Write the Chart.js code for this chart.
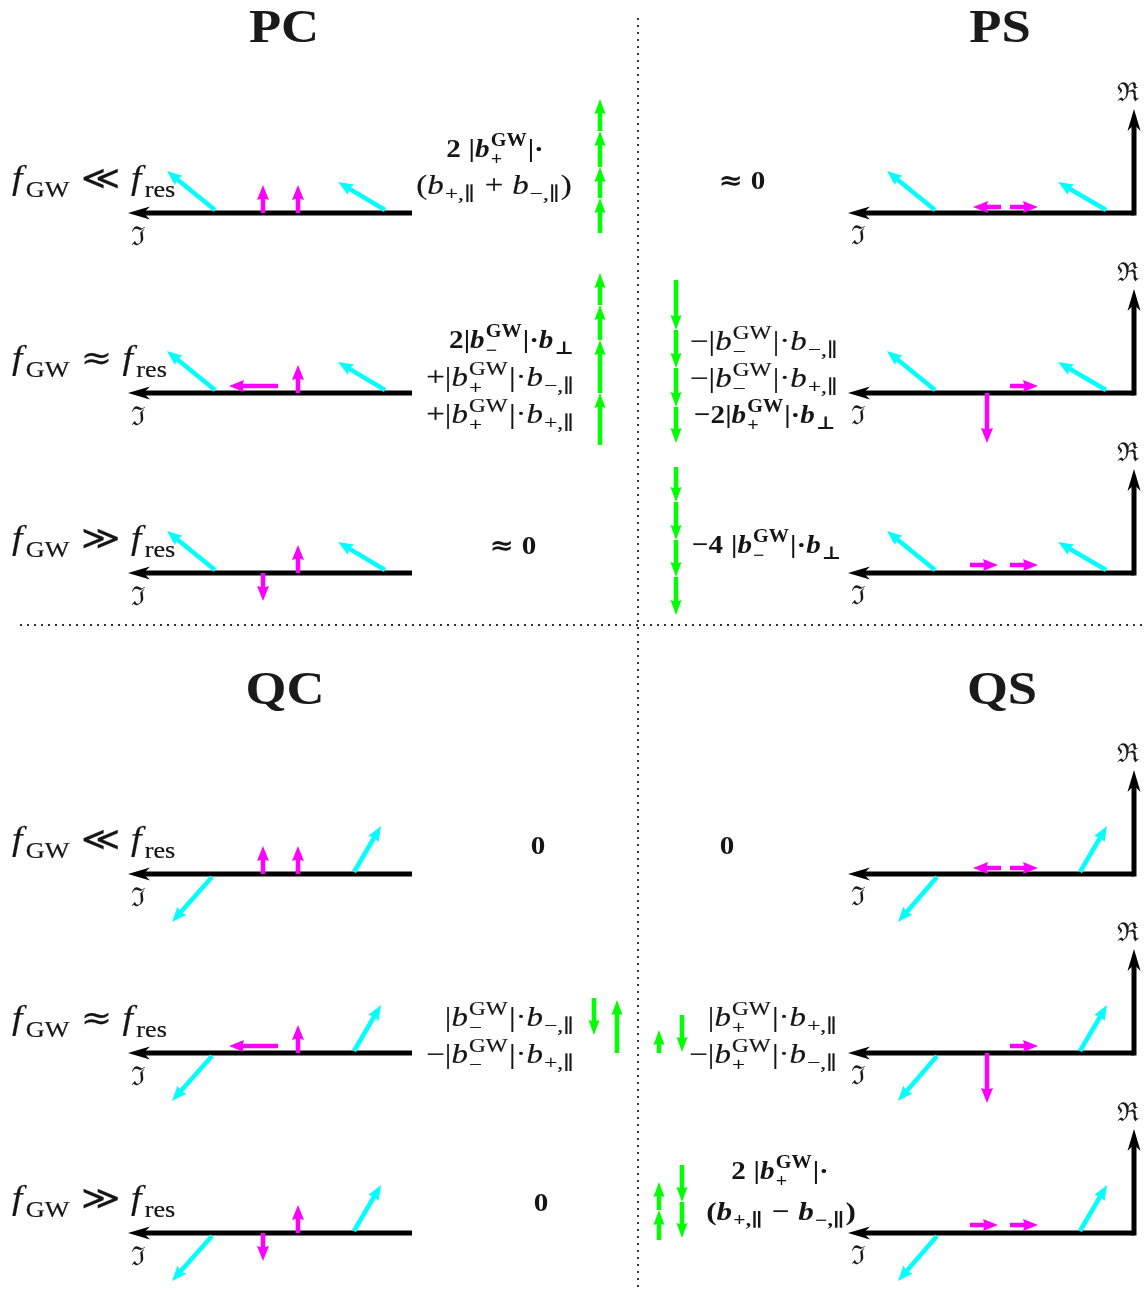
<!DOCTYPE html>
<html><head><meta charset="utf-8">
<script src="https://cdn.jsdelivr.net/npm/chart.js@4.4.1/dist/chart.umd.min.js"></script>
<style>html,body{margin:0;padding:0;background:#fff}canvas{display:block}</style>
</head><body><canvas id="c" width="1144" height="1290"></canvas>
<script>
// ---------------- data (diagram units) ----------------
const panelTitles = ['PC', 'PS', 'QC', 'QS'];
const titleX = [284, 1000, 285, 1002];
const titleY = [42, 42, 704, 704];
const rowRelations = ['≪', '≈', '≫', '≪', '≈', '≫'];
const rowAxisY = [213, 393, 573, 874, 1053, 1233];
const leftAxis = [412, 128];    // start, tip
const rightAxis = [1134, 848];  // start, tip
const reAxisLen = 104;
// cyan phasors: [x0, up0, x1, up1] (up = above the axis)
const cyanP  = [[215, 3, 167, 42], [385, 3, 338, 31]];
const cyanPR = [[935, 3, 887, 42], [1106, 3, 1058, 31]];
const cyanQ  = [[212, -3, 172, -48], [354, 2, 381, 48]];
const cyanQR = [[937, -3, 898, -48], [1080, 2, 1107, 48]];
// magenta phasors per row (C = left panels, S = right panels)
const magentaC = [
  [[263, 0, 263, 28], [298, 0, 298, 28]],
  [[278, 7, 229, 7], [298, 0, 298, 28]],
  [[298, 0, 298, 28], [263, 0, 263, -28]]
];
const magentaS = [
  [[1001, 6, 973, 6], [1010, 6, 1038, 6]],
  [[1010, 7, 1038, 7], [987, 0, 987, -50]],
  [[970, 8, 998, 8], [1010, 8, 1038, 8]]
];
// green contributions: [x, yStart, yEnd]
const greenArrows = [
  [600, 233, 198], [600, 198, 167], [600, 167, 131], [600, 131, 99],
  [600, 445, 393], [600, 393, 340], [600, 340, 305], [600, 305, 273],
  [676, 280, 330], [676, 330, 368], [676, 368, 407], [676, 407, 443],
  [676, 467, 502], [676, 502, 540], [676, 540, 577], [676, 577, 615],
  [594, 998, 1035], [617, 1053, 1000],
  [659, 1053, 1030], [682, 1015, 1052],
  [659, 1240, 1210], [659, 1210, 1182], [682, 1165, 1202], [682, 1202, 1238]
];
// expressions: [text, x, baseline, align, bold]
const exprs = [
  ['2 |b^{GW}_{+}|·', 495, 157, 'center', true],
  ['(b_{+,∥} + b_{−,∥})', 494, 194, 'center', false],
  ['≈ 0', 742, 189, 'center', true],
  ['2|b^{GW}_{−}|·b_{⊥}', 575, 348, 'right', true],
  ['+|b^{GW}_{+}|·b_{−,∥}', 575, 386, 'right', false],
  ['+|b^{GW}_{+}|·b_{+,∥}', 575, 423, 'right', false],
  ['−|b^{GW}_{−}|·b_{−,∥}', 690, 350, 'left', false],
  ['−|b^{GW}_{−}|·b_{+,∥}', 690, 387, 'left', false],
  ['−2|b^{GW}_{+}|·b_{⊥}', 694, 423, 'left', true],
  ['≈ 0', 513, 554, 'center', true],
  ['−4 |b^{GW}_{−}|·b_{⊥}', 692, 553, 'left', true],
  ['0', 538, 854, 'center', true],
  ['0', 727, 854, 'center', true],
  ['|b^{GW}_{−}|·b_{−,∥}', 575, 1026, 'right', false],
  ['−|b^{GW}_{−}|·b_{+,∥}', 575, 1063, 'right', false],
  ['|b^{GW}_{+}|·b_{+,∥}', 838, 1026, 'right', false],
  ['−|b^{GW}_{+}|·b_{−,∥}', 838, 1063, 'right', false],
  ['0', 541, 1211, 'center', true],
  ['2 |b^{GW}_{+}|·', 780, 1179, 'center', true],
  ['(b_{+,∥} − b_{−,∥})', 781, 1220, 'center', true]
];
const dividerV = [638, 18, 1290];
const dividerH = [625, 20, 1144];

// ---------------- build datasets ----------------
const CY = '#00FFFF', MG = '#FF00FF', GR = '#00FF00', BK = '#000000';
const datasets = [];
function addArrow(x0, y0, x1, y1, color, kind) {
  datasets.push({ data: [{x: x0, y: y0}, {x: x1, y: y1}], arrowColor: color, kind: kind,
    showLine: false, pointRadius: 0, pointHoverRadius: 0 });
}
rowAxisY.forEach((base, r) => {
  const isQ = r >= 3, row = r % 3;
  addArrow(leftAxis[0], base, leftAxis[1], base, BK, 'axis');
  addArrow(rightAxis[0], base, rightAxis[1], base, BK, 'axis');
  addArrow(rightAxis[0], base + 2.5, rightAxis[0], base - reAxisLen, BK, 'axis');
  const cl = isQ ? cyanQ : cyanP, cr = isQ ? cyanQR : cyanPR;
  cl.concat(cr).forEach(a => addArrow(a[0], base - a[1], a[2], base - a[3], CY, 'col'));
  magentaC[row].concat(magentaS[row]).forEach(a => addArrow(a[0], base - a[1], a[2], base - a[3], MG, 'col'));
});
greenArrows.forEach(g => addArrow(g[0], g[1], g[0], g[2], GR, 'green'));

// ---------------- math text helpers ----------------
const FONT = '"Liberation Serif", "DejaVu Serif", serif';
const SYM = '"DejaVu Serif", serif';
function fnt(size, bold, ital, sym) {
  return (ital ? 'italic ' : '') + (bold ? 'bold ' : '') + size + 'px ' + (sym ? SYM : FONT);
}
function tokens(s) {
  const out = []; let i = 0;
  while (i < s.length) {
    const c = s[i];
    if ((c === '^' || c === '_') && s[i + 1] === '{') {
      const j = s.indexOf('}', i);
      out.push({k: c === '^' ? 'sup' : 'sub', t: s.slice(i + 2, j)}); i = j + 1;
    } else { out.push({k: 'ch', t: c}); i++; }
  }
  return out;
}
function isSym(c) { return '∥⊥≪≫≈'.includes(c); }
function layoutMath(ctx, s, S, bold) {
  const tk = tokens(s), ops = []; let x = 0; const s2 = Math.round(S * 0.7);
  function pushRun(t, x0, dy, size) {
    let w = 0;
    for (const c of t) { const f = fnt(size, bold, false, isSym(c)); ctx.font = f; ops.push({t: c, x: x0 + w, dy: dy, font: f}); w += ctx.measureText(c).width; }
    return w;
  }
  for (let i = 0; i < tk.length; i++) {
    const t = tk[i];
    if (t.k === 'ch') {
      if (t.t === ' ') { x += S * 0.27; continue; }
      const it = 'bf'.includes(t.t);
      const f = fnt(S, bold, it, isSym(t.t)); ctx.font = f;
      ops.push({t: t.t, x: x, dy: 0, font: f});
      x += ctx.measureText(t.t).width + (t.t === 'f' ? S * 0.06 : 0);
    } else {
      const nx = tk[i + 1];
      if (nx && nx.k !== 'ch' && nx.k !== t.k) {
        const sup = t.k === 'sup' ? t : nx, sub = t.k === 'sub' ? t : nx;
        const w1 = pushRun(sup.t, x + 1, -S * 0.42, s2);
        const w2 = pushRun(sub.t, x + 1, S * 0.30, s2);
        x += Math.max(w1, w2) + 2; i++;
      } else {
        const w = pushRun(t.t, x + 1, t.k === 'sup' ? -S * 0.42 : S * 0.24, s2);
        x += w + 2;
      }
    }
  }
  return {w: x, ops: ops};
}
function drawMath(ctx, s, x, y, align, S, bold, stretch) {
  const L = layoutMath(ctx, s, S, bold); const W = L.w * stretch;
  const x0 = align === 'center' ? x - W / 2 : align === 'right' ? x - W : x;
  ctx.save(); ctx.translate(x0, y); ctx.scale(stretch, 1);
  ctx.textAlign = 'left'; ctx.textBaseline = 'alphabetic'; ctx.fillStyle = '#151515';
  ctx.strokeStyle = '#151515'; ctx.lineWidth = 0.2;
  L.ops.forEach(o => { ctx.font = o.font; ctx.fillText(o.t, o.x, o.dy); if (!bold) ctx.strokeText(o.t, o.x, o.dy); });
  ctx.restore();
}
function drawArrow(ctx, x0, y0, x1, y1, color, lw, hl, hw, notch) {
  const dx = x1 - x0, dy = y1 - y0, L = Math.hypot(dx, dy), ux = dx / L, uy = dy / L, nx = -uy, ny = ux;
  const bx = x1 - ux * hl, by = y1 - uy * hl;
  ctx.strokeStyle = color; ctx.lineWidth = lw; ctx.lineCap = 'butt';
  ctx.beginPath(); ctx.moveTo(x0, y0); ctx.lineTo(x1 - ux * hl * 0.6, y1 - uy * hl * 0.6); ctx.stroke();
  ctx.fillStyle = color; ctx.beginPath(); ctx.moveTo(x1, y1);
  ctx.lineTo(bx + nx * hw / 2, by + ny * hw / 2);
  ctx.lineTo(x1 - ux * hl * (1 - notch), y1 - uy * hl * (1 - notch));
  ctx.lineTo(bx - nx * hw / 2, by - ny * hw / 2);
  ctx.closePath(); ctx.fill();
}

const diagramPlugin = {
  id: 'diagram',
  beforeDraw(chart) {
    const c = chart.ctx; c.save(); c.fillStyle = '#fff'; c.fillRect(0, 0, chart.width, chart.height); c.restore();
  },
  beforeDatasetsDraw(chart) {
    const c = chart.ctx, xs = chart.scales.x, ys = chart.scales.y;
    c.save(); c.strokeStyle = '#333'; c.lineWidth = 2; c.setLineDash([2, 5]);
    c.beginPath(); c.moveTo(xs.getPixelForValue(dividerV[0]), ys.getPixelForValue(dividerV[1]));
    c.lineTo(xs.getPixelForValue(dividerV[0]), ys.getPixelForValue(dividerV[2])); c.stroke();
    c.beginPath(); c.moveTo(xs.getPixelForValue(dividerH[1]), ys.getPixelForValue(dividerH[0]));
    c.lineTo(xs.getPixelForValue(dividerH[2]), ys.getPixelForValue(dividerH[0])); c.stroke();
    c.restore();
  },
  afterDatasetsDraw(chart) {
    const c = chart.ctx, xs = chart.scales.x, ys = chart.scales.y;
    c.save();
    chart.data.datasets.forEach((ds, i) => {
      const m = chart.getDatasetMeta(i); const p0 = m.data[0], p1 = m.data[1];
      if (ds.kind === 'axis') drawArrow(c, p0.x, p0.y, p1.x, p1.y, ds.arrowColor, 5, 22, 13, 0.3);
      else if (ds.kind === 'green') drawArrow(c, p0.x, p0.y, p1.x, p1.y, ds.arrowColor, 4.5, 15, 11, 0.12);
      else drawArrow(c, p0.x, p0.y, p1.x, p1.y, ds.arrowColor, 4.5, 15, 12, 0.12);
    });
    c.fillStyle = '#1a1a1a'; c.textAlign = 'center'; c.textBaseline = 'alphabetic';
    panelTitles.forEach((t, i) => {
      c.save(); c.translate(xs.getPixelForValue(titleX[i]), ys.getPixelForValue(titleY[i])); c.scale(1.12, 1);
      c.font = fnt(47, true, false); c.fillText(t, 0, 0); c.restore();
    });
    rowAxisY.forEach((base, r) => {
      drawMath(c, 'f_{GW} ' + rowRelations[r] + ' f_{res}', xs.getPixelForValue(12), ys.getPixelForValue(base - 24), 'left', 33, false, 1.14);
      c.fillStyle = '#1a1a1a'; c.textAlign = 'center'; c.font = '26px "DejaVu Serif", serif';
      c.fillText('ℑ', xs.getPixelForValue(138), ys.getPixelForValue(base + 32));
      c.fillText('ℑ', xs.getPixelForValue(858), ys.getPixelForValue(base + 31));
      c.fillText('ℜ', xs.getPixelForValue(1128), ys.getPixelForValue(base - 112));
    });
    exprs.forEach(e => drawMath(c, e[0], xs.getPixelForValue(e[1]), ys.getPixelForValue(e[2]), e[3], e[4] ? 26 : 27, e[4], e[4] ? (e[0][0] === '(' ? 1.2 : 1.12) : 1.22));
    c.restore();
  }
};

new Chart(document.getElementById('c'), {
  type: 'scatter',
  data: { datasets: datasets },
  options: {
    responsive: false, animation: false, devicePixelRatio: 1,
    layout: { padding: 0 },
    events: [],
    plugins: { legend: { display: false }, tooltip: { enabled: false } },
    scales: {
      x: { type: 'linear', min: 0, max: 1144, display: false },
      y: { type: 'linear', min: 0, max: 1290, reverse: true, display: false }
    }
  },
  plugins: [diagramPlugin]
});
</script></body></html>
